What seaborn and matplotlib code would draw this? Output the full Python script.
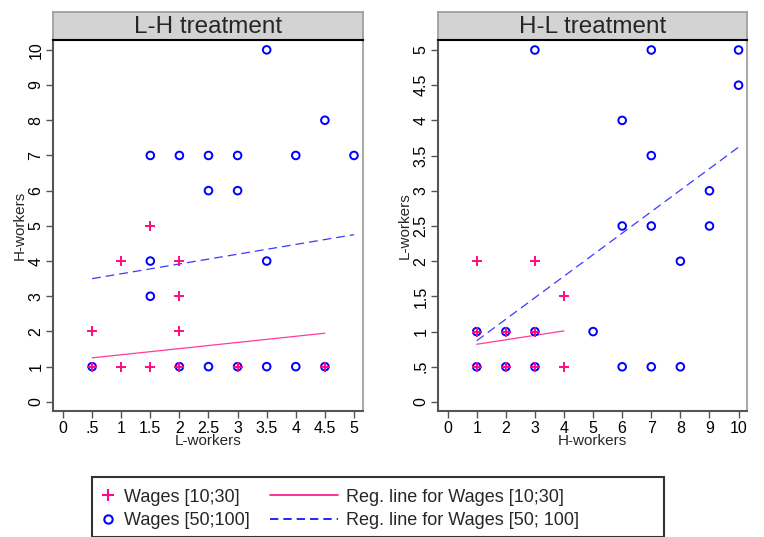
import numpy as np
import pandas as pd
import seaborn as sns
import matplotlib
matplotlib.use("Agg")
import matplotlib.pyplot as plt
from matplotlib.lines import Line2D
from matplotlib.patches import Rectangle

# ---- data ----
# L-H treatment
lh_low_x = [0.5, 1, 1.5, 2, 2, 2, 0.5, 1, 1.5, 2, 3, 4.5]
lh_low_y = [2, 4, 5, 4, 3, 2, 1, 1, 1, 1, 1, 1]
lh_high_x = [0.5, 1.5, 2, 2.5, 3, 4, 5, 2.5, 3, 3.5, 4.5, 1.5, 3.5, 1.5,
             2, 2.5, 3, 3.5, 4, 4.5]
lh_high_y = [1, 7, 7, 7, 7, 7, 7, 6, 6, 10, 8, 4, 4, 3,
             1, 1, 1, 1, 1, 1]
lh_reg_low_x = [0.5, 4.5]
lh_reg_low_y = [1.25, 1.95]
lh_reg_high_x = [0.5, 5]
lh_reg_high_y = [3.5, 4.75]

# H-L treatment
hl_low_x = [1, 3, 4, 1, 2, 3, 1, 2, 3, 4]
hl_low_y = [2, 2, 1.5, 1, 1, 1, 0.5, 0.5, 0.5, 0.5]
hl_high_x = [3, 7, 10, 10, 6, 7, 9, 6, 7, 9, 8, 1, 2, 3, 5,
             1, 2, 3, 6, 7, 8]
hl_high_y = [5, 5, 5, 4.5, 4, 3.5, 3, 2.5, 2.5, 2.5, 2, 1, 1, 1, 1,
             0.5, 0.5, 0.5, 0.5, 0.5, 0.5]
hl_reg_low_x = [1, 4]
hl_reg_low_y = [0.82, 1.01]
hl_reg_high_x = [1, 10]
hl_reg_high_y = [0.87, 3.62]

lh_xticks = [0, 0.5, 1, 1.5, 2, 2.5, 3, 3.5, 4, 4.5, 5]
lh_xlabels = ["0", ".5", "1", "1.5", "2", "2.5", "3", "3.5", "4", "4.5", "5"]
lh_yticks = list(range(0, 11))
hl_xticks = list(range(0, 11))
hl_yticks = [0, 0.5, 1, 1.5, 2, 2.5, 3, 3.5, 4, 4.5, 5]
hl_ylabels = ["0", ".5", "1", "1.5", "2", "2.5", "3", "3.5", "4", "4.5", "5"]

PINK = "#FF0A84"
PINK_LINE = "#FF3C9A"
BLUE = "#0000FF"
BLUE_LINE = "#3A3AFF"

sns.set_style("white")
plt.rcParams["font.family"] = ["Liberation Sans", "DejaVu Sans"]

W, H = 764, 537
fig = plt.figure(figsize=(W / 100, H / 100), dpi=100)


def px_axes(x0, y0, x1, y1):
    return fig.add_axes([x0 / W, 1 - y1 / H, (x1 - x0) / W, (y1 - y0) / H])


def panel(x0, x1, title, lx, ly, hx, hy, rlx, rly, rhx, rhy,
          xlim, ylim, xticks, xlabels, yticks, ylabels, xlab, ylab):
    ax = px_axes(x0, 40, x1, 411)
    low = pd.DataFrame({"x": lx, "y": ly})
    high = pd.DataFrame({"x": hx, "y": hy})
    sns.scatterplot(data=high, x="x", y="y", ax=ax, marker="o", s=30,
                    facecolors="none", edgecolor=BLUE, linewidth=1.4, zorder=3)
    sns.scatterplot(data=low, x="x", y="y", ax=ax, marker="+", s=55,
                    color=PINK, linewidth=1.4, zorder=4)
    sns.lineplot(x=rlx, y=rly, ax=ax, color=PINK_LINE, linewidth=0.9, zorder=2)
    sns.lineplot(x=rhx, y=rhy, ax=ax, color=BLUE_LINE, linewidth=0.9,
                 dashes=False, linestyle=(0, (7, 4)), zorder=2)
    ax.set_xlim(*xlim)
    ax.set_ylim(*ylim)
    ax.set_xticks(xticks)
    ax.set_xticklabels(xlabels)
    ax.set_yticks(yticks)
    ax.set_yticklabels(ylabels, rotation=90, va="center")
    ax.tick_params(axis="both", direction="out", length=5, width=1,
                   color="#555555", labelsize=11.5, labelcolor="black", pad=2)
    ax.tick_params(bottom=True, left=True)
    ax.set_xlabel(xlab, fontsize=11, labelpad=-1)
    ax.set_ylabel(ylab, fontsize=11, labelpad=1)
    for s in ["top", "right"]:
        ax.spines[s].set_color("#9a9a9a")
        ax.spines[s].set_linewidth(1.2)
    for s in ["left", "bottom"]:
        ax.spines[s].set_color("#555555")
        ax.spines[s].set_linewidth(1.5)

    strip = px_axes(x0, 12, x1, 40)
    strip.set_facecolor("#D3D3D3")
    strip.set_xticks([])
    strip.set_yticks([])
    for s in ["top", "left", "right"]:
        strip.spines[s].set_color("#9a9a9a")
        strip.spines[s].set_linewidth(1.2)
    strip.spines["bottom"].set_color("black")
    strip.spines["bottom"].set_linewidth(1.5)
    strip.text(0.5, 0.45, title, ha="center", va="center", fontsize=17.5,
               transform=strip.transAxes)
    return ax


panel(53, 363, "L-H treatment", lh_low_x, lh_low_y, lh_high_x, lh_high_y,
      lh_reg_low_x, lh_reg_low_y, lh_reg_high_x, lh_reg_high_y,
      (-0.172, 5.155), (-0.26, 10.28), lh_xticks, lh_xlabels,
      lh_yticks, [str(v) for v in lh_yticks], "L-workers", "H-workers")
panel(438, 747, "H-L treatment", hl_low_x, hl_low_y, hl_high_x, hl_high_y,
      hl_reg_low_x, hl_reg_low_y, hl_reg_high_x, hl_reg_high_y,
      (-0.33, 10.29), (-0.128, 5.142), hl_xticks, [str(v) for v in hl_xticks],
      hl_yticks, hl_ylabels, "H-workers", "L-workers")

# legend box
fig.patches.append(Rectangle((92 / W, 0), (664 - 92) / W, 1 - 477 / H,
                             transform=fig.transFigure, fill=False,
                             edgecolor="#333333", linewidth=1.5))
marker_handles = [
    Line2D([], [], linestyle="none", marker="+", color=PINK,
           markersize=8, markeredgewidth=1.5),
    Line2D([], [], linestyle="none", marker="o", markerfacecolor="none",
           markeredgecolor=BLUE, markersize=6, markeredgewidth=1.5),
]
line_handles = [
    Line2D([], [], color=PINK, linewidth=1.2),
    Line2D([], [], color=BLUE, linewidth=1.2, linestyle=(0, (5, 3))),
]
fig.legend(marker_handles, ["Wages [10;30]", "Wages [50;100]"],
           loc="upper left", bbox_to_anchor=(96 / W, 1 - 485 / H),
           frameon=False, fontsize=13, handlelength=0.9,
           handletextpad=0.45, labelspacing=0.38, borderaxespad=0,
           borderpad=0.2)
fig.legend(line_handles, ["Reg. line for Wages [10;30]",
                          "Reg. line for Wages [50; 100]"],
           loc="upper left", bbox_to_anchor=(266 / W, 1 - 485 / H),
           frameon=False, fontsize=13, handlelength=3.8,
           handletextpad=0.45, labelspacing=0.38, borderaxespad=0,
           borderpad=0.2)

fig.savefig("out.png", dpi=100)
